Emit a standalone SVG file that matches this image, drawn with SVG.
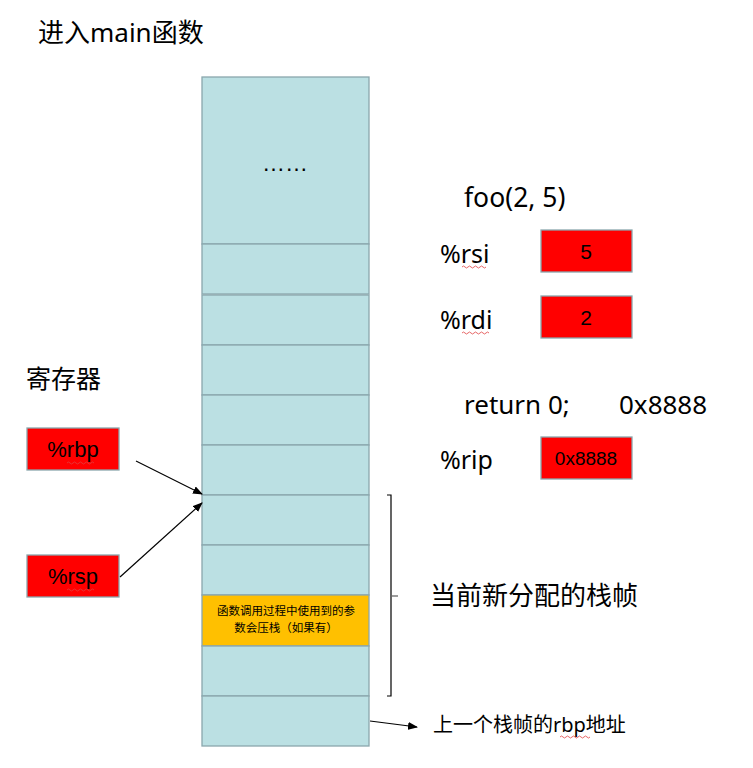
<svg xmlns="http://www.w3.org/2000/svg" width="753" height="768" viewBox="0 0 753 768">
<defs>
<style>
.cell{fill:#bbe0e3;stroke:#8aa7ad;stroke-width:1.3}
.yel{fill:#ffc000;stroke:#8aa7ad;stroke-width:1.3}
.reg{fill:#ff0000;stroke:#8aa7ad;stroke-width:1.3}
.t{font-family:"Noto Sans","Noto Sans CJK SC",sans-serif;fill:#000}
.a{font-family:"Liberation Sans",Arial,"Noto Sans CJK SC",sans-serif;fill:#000}
.con{stroke:#000;stroke-width:1.2;fill:none}
.sq{stroke:#e04040;stroke-width:0.8;fill:none}
</style>
<marker id="ah" markerWidth="10" markerHeight="8" refX="9" refY="4" orient="auto" markerUnits="userSpaceOnUse">
<path d="M0,0 L10,4 L0,8 Z" fill="#000"/>
</marker>
</defs>
<rect width="753" height="768" fill="#fff"/>
<text class="t" x="38" y="42" font-size="26">进入main函数</text>
<g id="stack">
<rect class="cell" x="202" y="77" width="167" height="167"/>
<text class="a" x="285" y="171" font-size="23" text-anchor="middle">……</text>
<rect class="cell" x="202" y="244" width="167" height="50"/>
<rect class="cell" x="202" y="295" width="167" height="50"/>
<rect class="cell" x="202" y="345" width="167" height="50"/>
<rect class="cell" x="202" y="395" width="167" height="50"/>
<rect class="cell" x="202" y="445" width="167" height="50"/>
<rect class="cell" x="202" y="495" width="167" height="50"/>
<rect class="cell" x="202" y="545" width="167" height="50"/>
<rect class="yel" x="202" y="595" width="167" height="51"/>
<text class="t" x="286" y="615" font-size="11.5" text-anchor="middle">函数调用过程中使用到的参</text>
<text class="t" x="286" y="632" font-size="11.5" text-anchor="middle">数会压栈（如果有）</text>
<rect class="cell" x="202" y="646" width="167" height="50"/>
<rect class="cell" x="202" y="696" width="167" height="50"/>
</g>
<text class="t" x="26" y="388" font-size="25">寄存器</text>
<g id="rbp">
<rect class="reg" x="27" y="428" width="92" height="42"/>
<text class="a" x="73" y="457" font-size="22" text-anchor="middle">%rbp</text>
<path class="sq" d="M67,463 q1.5,-2 3,0 t3,0 t3,0 t3,0 t3,0 t3,0 t3,0 t3,0 t3,0"/>
</g>
<g id="rsp">
<rect class="reg" x="27" y="555" width="92" height="42"/>
<text class="a" x="73" y="584" font-size="22" text-anchor="middle">%rsp</text>
<path class="sq" d="M67,590 q1.5,-2 3,0 t3,0 t3,0 t3,0 t3,0 t3,0 t3,0 t3,0 t3,0"/>
</g>
<text class="t" x="464" y="207" font-size="26.5">foo(2, 5)</text>
<g id="rsi">
<text class="t" x="440" y="263" font-size="25">%rsi</text>
<path class="sq" d="M462,267 q1.5,-2 3,0 t3,0 t3,0 t3,0 t3,0 t3,0 t3,0 t3,0"/>
<rect class="reg" x="541" y="230" width="91" height="42"/>
<text class="a" x="586" y="259" font-size="21" text-anchor="middle">5</text>
</g>
<g id="rdi">
<text class="t" x="440" y="329" font-size="25">%rdi</text>
<path class="sq" d="M462,333 q1.5,-2 3,0 t3,0 t3,0 t3,0 t3,0 t3,0 t3,0 t3,0 t3,0"/>
<rect class="reg" x="541" y="296" width="91" height="42"/>
<text class="a" x="586" y="325" font-size="21" text-anchor="middle">2</text>
</g>
<text class="t" x="464" y="414" font-size="26">return 0;</text>
<text class="t" x="619" y="414" font-size="26">0x8888</text>
<g id="rip">
<text class="t" x="440" y="469" font-size="25">%rip</text>
<rect class="reg" x="541" y="437" width="91" height="42"/>
<text class="a" x="586" y="465" font-size="19" text-anchor="middle">0x8888</text>
</g>
<g id="frame">
<path class="con" d="M387,495 H391 V696 H387"/>
<path d="M391,596 H398" stroke="#666" stroke-width="1.3"/>
<text class="t" x="430" y="605" font-size="26">当前新分配的栈帧</text>
</g>
<text class="t" x="433" y="732" font-size="20">上一个栈帧的rbp地址</text>
<path class="sq" d="M560,737 q1.5,-2 3,0 t3,0 t3,0 t3,0 t3,0 t3,0 t3,0 t3,0 t3,0 t3,0"/>
<g id="connectors">
<line class="con" x1="136" y1="461" x2="202" y2="494" marker-end="url(#ah)"/>
<line class="con" x1="120" y1="577" x2="202" y2="503" marker-end="url(#ah)"/>
<line class="con" x1="370" y1="721" x2="417" y2="727" marker-end="url(#ah)"/>
</g>
</svg>
